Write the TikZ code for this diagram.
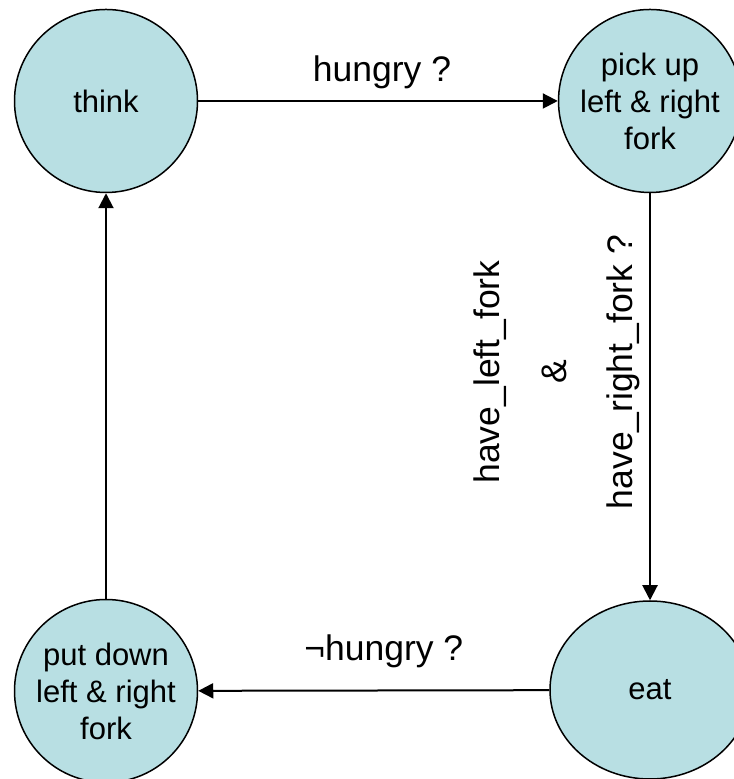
\documentclass[tikz,border=0pt]{standalone}
\usepackage{fontspec}
\setmainfont{Liberation Sans}
\usetikzlibrary{shapes.geometric,arrows.meta}
\definecolor{statefill}{RGB}{184,223,227}
\begin{document}
\begin{tikzpicture}[x=0.5pt, y=0.5pt,
		state/.style={circle, draw=black, line width=0.75pt, fill=statefill, minimum size=91.5pt, inner sep=0pt, align=center, font=\fontsize{15.5}{18.5}\selectfont},
		trans/.style={-{Triangle[length=7.5pt,width=7.5pt]}, line width=1pt},
		guard/.style={inner sep=0pt, align=center, font=\fontsize{17.75}{33.25}\selectfont}]
		\useasboundingbox (0,0) rectangle (733,779);
		% States
		\node[state] (think) at (106,678) {think};
		\node[state] (pickup) at (650,678) {pick up\\left \& right\\fork};
		\node[state, ellipse, minimum width=100pt, minimum height=89pt] (eat) at (650,89) {eat};
		\node[state] (putdown) at (106,88) {put down\\left \& right\\fork};
		% Transitions
		\draw[trans] (think) -- node[guard, above=5.5pt, xshift=2pt] (hungry) {hungry ?} (pickup);
		\draw[trans] (pickup) -- (eat);
		\draw[trans] (eat) -- node[guard, above=11pt, xshift=5pt] (nothungry) {¬hungry ?} (putdown);
		\draw[trans] (putdown) -- (think);
		% Guard of the eat transition
		\node[guard, rotate=90] (forks) at (557,407) {have\_left\_fork\\\&\\have\_right\_fork ?};
	\end{tikzpicture}
\end{document}
